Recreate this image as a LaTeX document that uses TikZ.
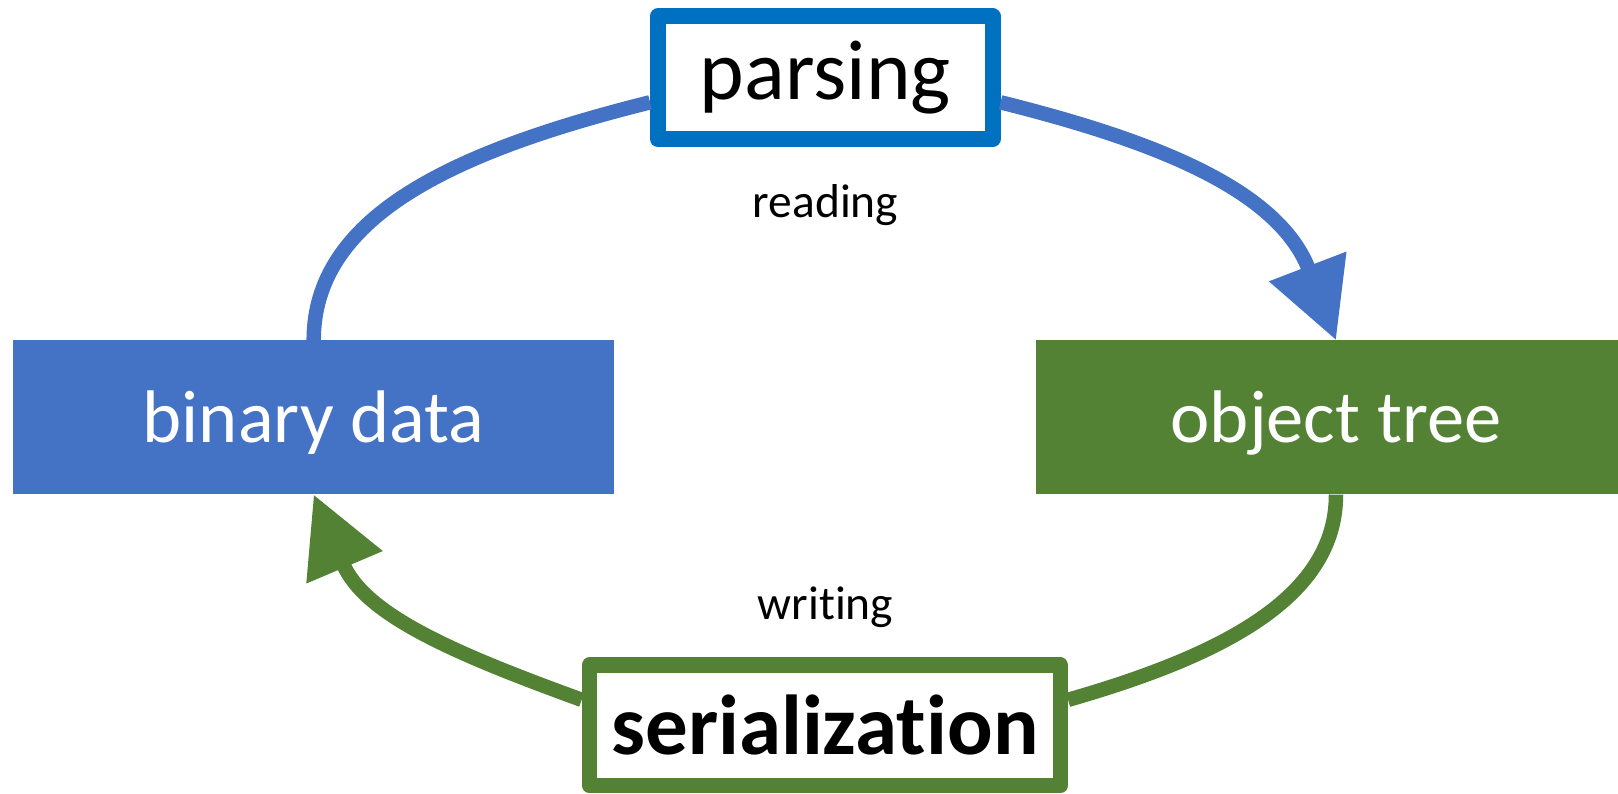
\documentclass[tikz,border=0pt]{standalone}
\usepackage{fontspec}
\setmainfont{Carlito}[Ligatures=NoCommon]
\usetikzlibrary{arrows.meta}

\definecolor{OfficeBlue}{HTML}{4472C4}
\definecolor{DeepBlue}{HTML}{0070C0}
\definecolor{OfficeGreen}{HTML}{548235}

\begin{document}
\begin{tikzpicture}[x=1pt,y=1pt]
  \tikzset{BoxStyle/.style = {
    shape         = rectangle,
    draw          = none,
    text          = white,
    inner sep     = 0pt,
    minimum width = 601pt,
    minimum height= 154pt,
    text height   = 49.8pt,
    text depth    = 0pt,
    font          = \fontsize{74.5}{80}\selectfont
    }
  }
  \tikzset{StepStyle/.style = {
    shape         = rectangle,
    fill          = white,
    text          = black,
    line width    = 16pt,
    line join     = round,
    inner sep     = 0pt,
    text depth    = 0pt,
    font          = \fontsize{85}{90}\selectfont
    }
  }
  \tikzset{LineStyle/.style = {
    line width    = 14.5pt
    }
  }
  \tikzset{EdgeStyle/.style = {
    LineStyle,
    -{Triangle[length=79pt,width=79pt]}
    }
  }
  \tikzset{LabelStyle/.style = {
    text          = black,
    inner sep     = 0pt,
    font          = \fontsize{47.5}{52}\selectfont
    }
  }
  \useasboundingbox (0,0) rectangle (1618,793);

	\node[BoxStyle, fill=OfficeBlue](Bin) at (313.7, 375.6) {binary data};
	\node[BoxStyle, fill=OfficeGreen](Obj) at (1336, 375.6) {object tree};
	\node[StepStyle, draw=DeepBlue, text height=44.6pt, minimum width=334.5pt, minimum height=122.7pt](Parse) at (825.3, 715.3) {parsing};
	\node[StepStyle, draw=OfficeGreen, line width=15.6pt, text height=59.2pt, minimum width=470.8pt, minimum height=120.2pt, font=\fontsize{85}{90}\selectfont\bfseries](Ser) at (824.9, 67.6) {serialization};
	\node[LabelStyle](Rd) at (825.5, 588) {reading};
	\node[LabelStyle](Wr) at (825.5, 186) {writing};

	\draw[LineStyle, OfficeBlue](Bin.north) to[out=90, in=194, out looseness=0.75, in looseness=1.3] (Parse.188);
	\draw[EdgeStyle, OfficeBlue](Parse.352) to[out=-14, in=111] (Obj.north);
	\draw[LineStyle, OfficeGreen](Obj.south) to[out=-90, in=16, out looseness=0.75, in looseness=1.3] (Ser.6);
	\draw[EdgeStyle, OfficeGreen](Ser.174) to[out=160, in=-67] (Bin.south);

  \end{tikzpicture}
\end{document}
